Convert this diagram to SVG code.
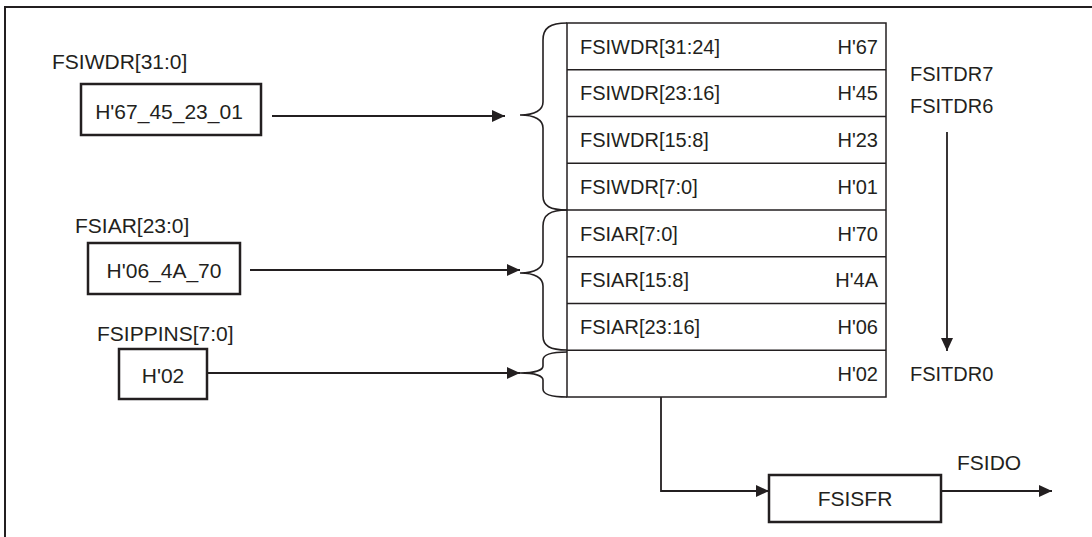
<svg xmlns="http://www.w3.org/2000/svg" width="1092" height="537" viewBox="0 0 1092 537">
<style>
text{font-family:"Liberation Sans",Arial,sans-serif;font-size:21px;fill:#231f20}
.t{font-size:20px}
.s{font-size:20px}
.box{fill:#fff;stroke:#231f20;stroke-width:2.5}
.tbl{fill:#fff;stroke:#231f20;stroke-width:1.5}
.ln{fill:none;stroke:#231f20;stroke-width:1.8}
.br{fill:none;stroke:#231f20;stroke-width:1.6}
.mid{text-anchor:middle}
.end{text-anchor:end}
</style>
<defs>
<marker id="ah" markerWidth="13" markerHeight="12" refX="13" refY="6" orient="auto" markerUnits="userSpaceOnUse">
<path d="M0,0 L13,6 L0,12 Z" fill="#231f20"/>
</marker>
</defs>
<rect x="0" y="0" width="1092" height="537" fill="#fff"/>
<path d="M5,540 V7 H1095" fill="none" stroke="#231f20" stroke-width="2"/>

<g id="fsiwdr">
<text x="52" y="69">FSIWDR[31:0]</text>
<rect class="box" x="81" y="84" width="180" height="51"/>
<text class="mid" x="169" y="119">H'67_45_23_01</text>
</g>
<g id="fsiar">
<text x="75" y="233">FSIAR[23:0]</text>
<rect class="box" x="88" y="243" width="152" height="51"/>
<text class="mid" x="164" y="278">H'06_4A_70</text>
</g>
<g id="fsippins">
<text x="97" y="341">FSIPPINS[7:0]</text>
<rect class="box" x="119" y="349" width="88" height="50"/>
<text class="mid" x="163" y="383">H'02</text>
</g>

<g id="fsitdr">
<rect class="tbl" x="567" y="23" width="319" height="374"/>
<path class="tbl" d="M567,69.75 H886 M567,116.5 H886 M567,163.25 H886 M567,210 H886 M567,256.75 H886 M567,303.5 H886 M567,350.25 H886"/>
<text class="t" x="580" y="53.5">FSIWDR[31:24]</text><text class="t end" x="878" y="53.5">H'67</text>
<text class="t" x="580" y="100">FSIWDR[23:16]</text><text class="t end" x="878" y="100">H'45</text>
<text class="t" x="580" y="147">FSIWDR[15:8]</text><text class="t end" x="878" y="147">H'23</text>
<text class="t" x="580" y="193.5">FSIWDR[7:0]</text><text class="t end" x="878" y="193.5">H'01</text>
<text class="t" x="580" y="240.5">FSIAR[7:0]</text><text class="t end" x="878" y="240.5">H'70</text>
<text class="t" x="580" y="287">FSIAR[15:8]</text><text class="t end" x="878" y="287">H'4A</text>
<text class="t" x="580" y="334">FSIAR[23:16]</text><text class="t end" x="878" y="334">H'06</text>
<text class="t end" x="878" y="380.5">H'02</text>
</g>

<g id="labels">
<text class="s" x="910" y="81">FSITDR7</text>
<text class="s" x="910" y="113">FSITDR6</text>
<text class="s" x="910" y="381">FSITDR0</text>
<text x="957" y="470">FSIDO</text>
</g>

<g id="fsisfr">
<rect class="box" x="769" y="475" width="172" height="47"/>
<text class="mid" x="855" y="506">FSISFR</text>
</g>

<g id="braces">
<path class="br" d="M567,23 C550,23 543,28 543,40 V102 C543,110 535,115 520,115 C535,115 543,120 543,128 V196 C543,206 550,210 567,210"/>
<path class="br" d="M567,210 C550,210 543,215 543,226 V260 C543,268 535,273 520,273 C535,273 543,278 543,286 V336 C543,346 550,350 567,350"/>
<path class="br" d="M567,352 C552,352 543,354 543,360 V366 C543,370 535,373 520,373 C535,373 543,376 543,380 V389 C543,395 552,397 567,397"/>
</g>

<g id="connectors">
<line class="ln" x1="272" y1="116" x2="505" y2="116" marker-end="url(#ah)"/>
<line class="ln" x1="250" y1="270" x2="520" y2="270" marker-end="url(#ah)"/>
<line class="ln" x1="208" y1="373" x2="520" y2="373" marker-end="url(#ah)"/>
<line class="ln" x1="947" y1="132" x2="947" y2="351" marker-end="url(#ah)"/>
<path class="ln" d="M661,397 V491 H769" marker-end="url(#ah)"/>
<line class="ln" x1="941" y1="491" x2="1052" y2="491" marker-end="url(#ah)"/>
</g>
</svg>
